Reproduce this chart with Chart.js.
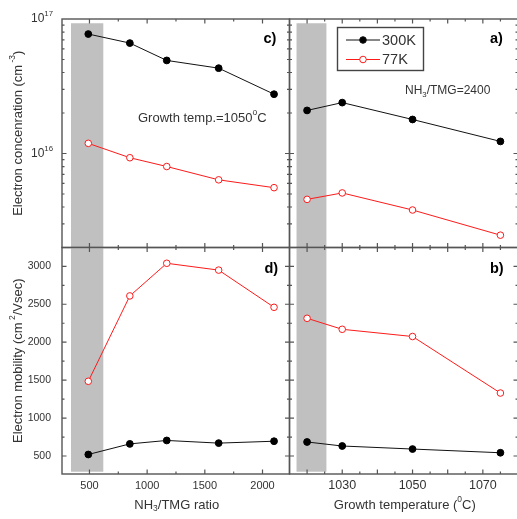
<!DOCTYPE html>
<html>
<head>
<meta charset="utf-8">
<script src="https://cdn.jsdelivr.net/npm/chart.js@4.4.1/dist/chart.umd.min.js"></script>
<style>
    html, body { margin: 0; padding: 0; background: #fff; overflow: hidden; }
    #wrap { position: relative; width: 517px; height: 519px; overflow: hidden; }
    canvas { position: absolute; left: 0; top: 0; }
</style>
</head>
<body>
<div id="wrap">
    <canvas id="concRatio" width="520" height="519"></canvas>
    <canvas id="concTemp" width="520" height="519"></canvas>
    <canvas id="mobRatio" width="520" height="519"></canvas>
    <canvas id="mobTemp" width="520" height="519"></canvas>
</div>
<script>
// samples
const ratio = [490, 850, 1170, 1620, 2100]
const temps = [1020, 1030, 1050, 1075]

// electron concentration, cm^-3
const concRatio300 = [7.73e16, 6.62e16, 4.92e16, 4.31e16, 2.76e16]
const concRatio77 = [1.19e16, 9.3e15, 8.0e15, 6.37e15, 5.57e15]
const concTemp300 = [2.09e16, 2.39e16, 1.79e16, 1.23e16]
const concTemp77 = [4.56e15, 5.09e15, 3.80e15, 2.47e15]

// electron mobility, cm2/Vsec
const mobRatio300 = [520, 660, 705, 670, 695]
const mobRatio77 = [1485, 2610, 3040, 2950, 2460]
const mobTemp300 = [685, 632, 592, 543]
const mobTemp77 = [2315, 2170, 2075, 1330]

// ticks
const ratioLabels = [500, 1000, 1500, 2000]
const ratioMinor = [750, 1250, 1750]
const tempLabels = [1030, 1050, 1070]
const tempMajor = [1020, 1030, 1040, 1050, 1060, 1070, 1080]
const tempMinor = [1025, 1035, 1045, 1055, 1065, 1075]
const mobLabels = [500, 1000, 1500, 2000, 2500, 3000]
const mobMinor = [750, 1250, 1750, 2250, 2750]
const concMajor = [1e16, 1e17]
const concMinor = [2e15, 3e15, 4e15, 5e15, 6e15, 7e15, 8e15, 9e15, 2e16, 3e16, 4e16, 5e16, 6e16, 7e16, 8e16, 9e16]

// grey band
const bandRatio = [340, 620]
const bandTemp = [1017, 1025.5]
const bandConc = [2e15, 9.3e16]
const bandMob = [293, 3248]

const FONT = "'Liberation Sans', Arial, sans-serif"
const INK = '#333'
const AXIS = '#555'

function font(size, bold) {
    return (bold ? 'bold ' : '') + size + 'px ' + FONT
}

// text with sub/superscripts: parts = [{t, sup, sub}]
function drawRich(ctx, parts, x, y, size, align) {
    let w = 0
    parts.forEach(p => {
        ctx.font = font(p.sup || p.sub ? size * 0.65 : size)
        w += ctx.measureText(p.t).width
    })
    let cx = align === 'center' ? x - w / 2 : align === 'right' ? x - w : x
    ctx.textAlign = 'left'
    ctx.textBaseline = 'middle'
    parts.forEach(p => {
        ctx.font = font(p.sup || p.sub ? size * 0.65 : size)
        const dy = p.sup ? -size * 0.42 : p.sub ? size * 0.32 : 0
        ctx.fillText(p.t, cx, y + dy)
        cx += ctx.measureText(p.t).width
    })
}

function panelPlugin(spec) {
    return {
        id: 'panel',
        beforeDatasetsDraw(chart) {
            const { ctx } = chart
            const x = chart.scales.x, y = chart.scales.y
            const x0 = x.getPixelForValue(spec.band[0]), x1 = x.getPixelForValue(spec.band[1])
            const y0 = y.getPixelForValue(spec.bandY[1]), y1 = y.getPixelForValue(spec.bandY[0])
            ctx.save()
            ctx.fillStyle = '#c0c0c0'
            ctx.fillRect(x0, y0, x1 - x0, y1 - y0)
            ctx.restore()
        },
        afterDraw(chart) {
            const { ctx, chartArea: a } = chart
            const x = chart.scales.x, y = chart.scales.y
            ctx.save()
            ctx.strokeStyle = AXIS
            ctx.lineWidth = 1.4
            ctx.strokeRect(a.left, a.top, a.right - a.left, a.bottom - a.top)

            // inward ticks on all four sides
            ctx.lineWidth = 1.2
            ctx.beginPath()
            const xt = (v, len) => {
                const px = x.getPixelForValue(v)
                if (px <= a.left + 1 || px >= a.right - 1) return
                ctx.moveTo(px, a.bottom); ctx.lineTo(px, a.bottom - len)
                ctx.moveTo(px, a.top); ctx.lineTo(px, a.top + len)
            }
            const yt = (v, len) => {
                const py = y.getPixelForValue(v)
                if (py <= a.top + 1 || py >= a.bottom - 1) return
                ctx.moveTo(a.left, py); ctx.lineTo(a.left + len, py)
                ctx.moveTo(a.right, py); ctx.lineTo(a.right - len, py)
            }
            spec.xMajor.forEach(v => xt(v, 4.5))
            spec.xMinor.forEach(v => xt(v, 2.5))
            spec.yMajor.forEach(v => yt(v, 4.5))
            spec.yMinor.forEach(v => yt(v, 2.5))
            ctx.stroke()

            ctx.fillStyle = INK
            if (spec.xLabels) {
                spec.xLabels.forEach(v => {
                    drawRich(ctx, [{ t: String(v) }], x.getPixelForValue(v), 486, spec.xLabelSize, 'center')
                })
                drawRich(ctx, spec.xTitle, (a.left + a.right) / 2 + 1, 505, 13, 'center')
            }
            if (spec.yLabels) {
                spec.yLabels.forEach(v => {
                    const py = y.getPixelForValue(v)
                    if (spec.log) {
                        const e = Math.round(Math.log10(v))
                        drawRich(ctx, [{ t: '10' }, { t: String(e), sup: true }], 53, py, 12, 'right')
                    } else {
                        drawRich(ctx, [{ t: String(v) }], 51, py, 10.5, 'right')
                    }
                })
                ctx.save()
                ctx.translate(18, (a.top + a.bottom) / 2)
                ctx.rotate(-Math.PI / 2)
                drawRich(ctx, spec.yTitle, 0, 0, 13, 'center')
                ctx.restore()
            }

            // panel letter
            ctx.fillStyle = '#000'
            ctx.font = font(14.5, true)
            ctx.textAlign = 'left'
            ctx.textBaseline = 'alphabetic'
            ctx.fillText(spec.tag, a.right - spec.tagRight, a.top + spec.tagY)

            if (spec.note) {
                ctx.fillStyle = INK
                drawRich(ctx, spec.note.parts, spec.note.x, spec.note.y, spec.note.size, 'left')
            }

            if (spec.legend) {
                ctx.strokeStyle = '#444'
                ctx.lineWidth = 1.4
                ctx.strokeRect(337.5, 27.5, 86, 43)
                chart.data.datasets.forEach((ds, i) => {
                    const ly = 40 + i * 19.5
                    ctx.strokeStyle = ds.borderColor
                    ctx.lineWidth = 1
                    ctx.beginPath()
                    ctx.moveTo(346, ly); ctx.lineTo(380, ly)
                    ctx.stroke()
                    ctx.beginPath()
                    ctx.arc(363, ly, 3.3, 0, Math.PI * 2)
                    ctx.fillStyle = ds.pointBackgroundColor
                    ctx.fill()
                    ctx.stroke()
                    ctx.fillStyle = INK
                    drawRich(ctx, [{ t: ds.label }], 382, ly + 0.5, 14.5, 'left')
                })
            }
            ctx.restore()
        }
    }
}

function series(xs, ys300, ys77) {
    const pts = ys => xs.map((v, i) => ({ x: v, y: ys[i] }))
    return [{
        label: '300K',
        data: pts(ys300),
        borderColor: '#111',
        backgroundColor: '#111',
        pointBackgroundColor: '#000',
        pointBorderColor: '#000',
        borderWidth: 1,
        pointRadius: 3.4,
        pointBorderWidth: 1
    }, {
        label: '77K',
        data: pts(ys77),
        borderColor: '#ff1a1a',
        backgroundColor: '#fff',
        pointBackgroundColor: '#fff',
        pointBorderColor: '#ff1a1a',
        borderWidth: 1,
        pointRadius: 3.3,
        pointBorderWidth: 1
    }]
}

// chart areas: left column 62..289.5, right column 289.5..518, rows 19..247.5 and 247.5..474
function makePanel(id, datasets, area, xRange, yScale, spec) {
    new Chart(document.getElementById(id), {
        type: 'line',
        data: { datasets: datasets },
        options: {
            responsive: false,
            animation: false,
            events: [],
            layout: {
                autoPadding: false,
                padding: { left: area[0], right: 520 - area[1], top: area[2], bottom: 519 - area[3] }
            },
            scales: {
                x: { type: 'linear', min: xRange[0], max: xRange[1], display: false },
                y: Object.assign({ display: false }, yScale)
            },
            plugins: { legend: { display: false }, tooltip: { enabled: false } }
        },
        plugins: [panelPlugin(spec)]
    })
}

const ratioRange = [262, 2234]
const tempRange = [1015, 1080]
const concScale = { type: 'logarithmic', min: 2e15, max: 1e17 }
const mobScale = { type: 'linear', min: 263, max: 3248 }

const concTitle = [{ t: 'Electron concenration (cm' }, { t: ' -3', sup: true }, { t: ')' }]
const mobTitle = [{ t: 'Electron mobility (cm' }, { t: ' 2', sup: true }, { t: '/Vsec)' }]

makePanel('concRatio', series(ratio, concRatio300, concRatio77), [62, 289.5, 19, 247.5], ratioRange, concScale, {
    band: bandRatio, bandY: bandConc,
    xMajor: ratioLabels, xMinor: ratioMinor, yMajor: concMajor, yMinor: concMinor,
    yLabels: concMajor, log: true, yTitle: concTitle,
    tag: 'c)', tagRight: 26, tagY: 24,
    note: { parts: [{ t: 'Growth temp.=1050' }, { t: 'o', sup: true }, { t: 'C' }], x: 138, y: 118, size: 13 }
})

makePanel('concTemp', series(temps, concTemp300, concTemp77), [289.5, 518, 19, 247.5], tempRange, concScale, {
    band: bandTemp, bandY: bandConc,
    xMajor: tempMajor, xMinor: tempMinor, yMajor: concMajor, yMinor: concMinor,
    tag: 'a)', tagRight: 28, tagY: 24, legend: true,
    note: { parts: [{ t: 'NH' }, { t: '3', sub: true }, { t: '/TMG=2400' }], x: 405, y: 91, size: 12 }
})

makePanel('mobRatio', series(ratio, mobRatio300, mobRatio77), [62, 289.5, 247.5, 474], ratioRange, mobScale, {
    band: bandRatio, bandY: bandMob,
    xMajor: ratioLabels, xMinor: ratioMinor, yMajor: mobLabels, yMinor: mobMinor,
    xLabels: ratioLabels, xLabelSize: 11,
    xTitle: [{ t: 'NH' }, { t: '3', sub: true }, { t: '/TMG ratio' }],
    yLabels: mobLabels, yTitle: mobTitle,
    tag: 'd)', tagRight: 25, tagY: 25
})

makePanel('mobTemp', series(temps, mobTemp300, mobTemp77), [289.5, 518, 247.5, 474], tempRange, mobScale, {
    band: bandTemp, bandY: bandMob,
    xMajor: tempMajor, xMinor: tempMinor, yMajor: mobLabels, yMinor: mobMinor,
    xLabels: tempLabels, xLabelSize: 12.5,
    xTitle: [{ t: 'Growth temperature (' }, { t: '0', sup: true }, { t: 'C)' }],
    tag: 'b)', tagRight: 28, tagY: 25
})
</script>
</body>
</html>
